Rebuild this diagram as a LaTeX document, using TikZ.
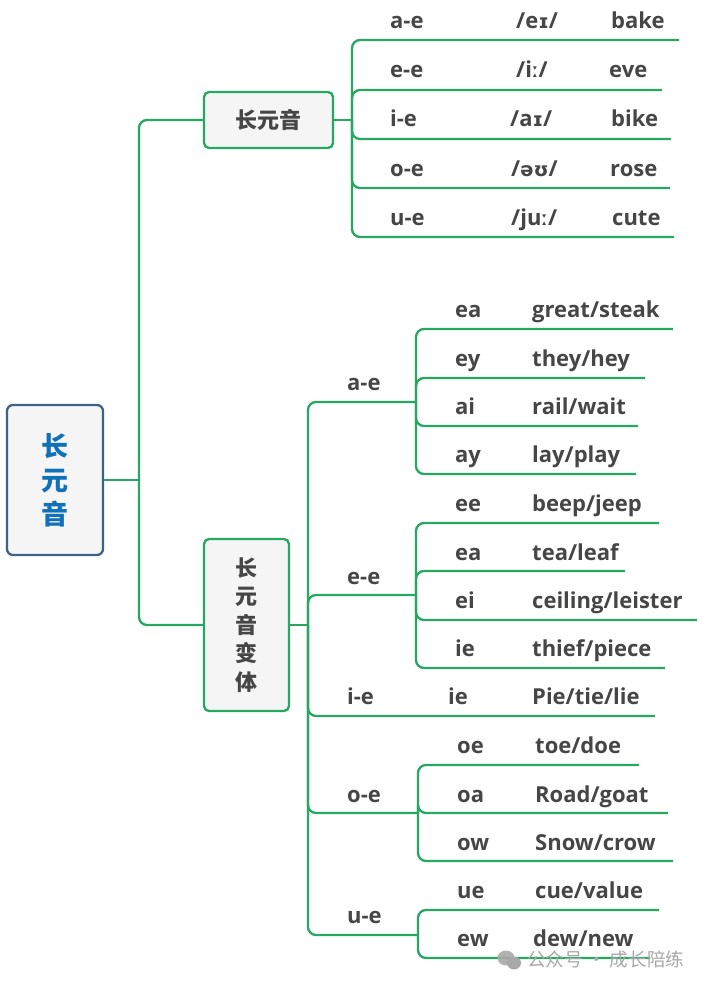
\documentclass[tikz,border=0pt]{standalone}
\usepackage{fontspec}
\setmainfont{Open Sans}
\newfontfamily\cjk{Noto Sans CJK SC}
\newfontfamily\ipafb{DejaVu Sans}
\newcommand{\ipg}[1]{{\fontsize{19.5}{26}\selectfont\ipafb\bfseries #1}}
\definecolor{lnk}{HTML}{27A761}
\definecolor{txt}{HTML}{464646}
\definecolor{rootblue}{HTML}{1070B8}
\definecolor{rootedge}{HTML}{3C6288}
\definecolor{boxfill}{HTML}{F5F5F5}
\definecolor{wm}{HTML}{A8A8A8}
\tikzset{
  x=1pt,y=-1pt,
  lbl/.style={anchor=base west,inner sep=0pt,yshift=-0.8pt,font=\fontsize{22}{26}\selectfont\bfseries,text=txt},
  lnkline/.style={draw=lnk,line width=2.3pt,rounded corners=8pt},
  boxa/.style={draw=lnk,line width=2.3pt,fill=boxfill,rounded corners=5pt,inner sep=0pt,align=center,text=txt,font=\fontsize{22}{28.5}\selectfont\cjk\bfseries},
  rootbox/.style={draw=rootedge,line width=2.3pt,fill=boxfill,rounded corners=6pt,inner sep=0pt,align=center,text=rootblue,font=\fontsize{27}{34}\selectfont\cjk\bfseries},
}
\begin{document}
\begin{tikzpicture}
\useasboundingbox (0,0) rectangle (706,988);
% nodes
\node[rootbox,minimum width=96pt,minimum height=150pt] (root) at (55,480) {长\\元\\音};
\node[boxa,minimum width=129pt,minimum height=56pt] (long) at (268.5,120) {长元音};
\node[boxa,minimum width=85pt,minimum height=172pt] (var) at (246.5,625) {长\\元\\音\\变\\体};
% coordinates
\coordinate (t0) at (139,480);
\coordinate (t1) at (352,120);
\coordinate (t2) at (308,625);
\coordinate (ta) at (416,402);
\coordinate (te) at (416,595);
\coordinate (to) at (418,813);
\coordinate (tu) at (418,935);
% first-level connectors
\draw[lnkline,rounded corners=0pt] (root.east) -- (t0);
\draw[lnkline] (t0) -- (t0 |- long.west) -- (long.west);
\draw[lnkline] (t0) -- (t0 |- var.west) -- (var.west);
\draw[lnkline,rounded corners=0pt] (long.east) -- (t1);
\draw[lnkline,rounded corners=0pt] (var.east) -- (t2);
% long vowels
\foreach \n/\yy/\xe in {l1/40/679,l2/90/662,l3/139/671,l4/188/670,l5/237/674}{
  \coordinate (\n) at (\xe,\yy);
  \draw[lnkline] (t1) -- (t1 |- \n) -- (\n);
}
\node[lbl] (la) at (390,28) {a-e};
\node[lbl] (lb) at (390,77) {e-e};
\node[lbl] (lc) at (390,126) {i-e};
\node[lbl] (ld) at (390,176) {o-e};
\node[lbl] (le) at (390,225) {u-e};
\node[lbl] (pa) at (516,28) {/e\ipg{ɪ}/};
\node[lbl] (pb) at (516,77) {/i\ipg{ː}/};
\node[lbl] (pc) at (510,126) {/a\ipg{ɪ}/};
\node[lbl] (pd) at (511,176) {/\ipg{əʊ}/};
\node[lbl] (pe) at (511,225) {/ju\ipg{ː}/};
\node[lbl] (wa) at (611,28) {bake};
\node[lbl] (wb) at (609,77) {eve};
\node[lbl] (wc) at (611,126) {bike};
\node[lbl] (wd) at (610,176) {rose};
\node[lbl] (we) at (612,225) {cute};
% variants trunk
\foreach \c in {ta,te,to,tu}{
  \draw[lnkline] (t2) -- (t2 |- \c) -- (\c);
}
\coordinate (ie) at (655,716);
\draw[lnkline] (t2) -- (t2 |- ie) -- (ie);
\foreach \tr/\n/\yy/\xe in {ta/a1/329/673,ta/a2/378/645,ta/a3/426/638,ta/a4/474/636,
  te/e1/523/659,te/e2/571/625,te/e3/620/697,te/e4/668/665,
  to/o1/765/639,to/o2/813/668,to/o3/861/673,
  tu/u1/910/659,tu/u2/958/650}{
  \coordinate (\n) at (\xe,\yy);
  \draw[lnkline] (\tr) -- (\tr |- \n) -- (\n);
}
\node[lbl] (va) at (347,390) {a-e};
\node[lbl] (ve) at (347,584) {e-e};
\node[lbl] (vi) at (347,704) {i-e};
\node[lbl] (vo) at (347,802) {o-e};
\node[lbl] (vu) at (347,923) {u-e};
\foreach \n/\xa/\xb/\yy/\sa/\sb in {
 r1/455/532/317/ea/great\slash steak,
 r2/455/532/366/ey/they\slash hey,
 r3/455/532/414/ai/rail\slash wait,
 r4/455/532/462/ay/lay\slash play,
 r5/455/532/511/ee/beep\slash jeep,
 r6/455/532/560/ea/tea\slash leaf,
 r7/455/532/608/ei/ceiling\slash leister,
 r8/455/532/656/ie/thief\slash piece,
 r9/448/532/704/ie/Pie\slash tie\slash lie,
 r10/457/535/753/oe/toe\slash doe,
 r11/457/535/802/oa/Road\slash goat,
 r12/457/535/850/ow/Snow\slash crow,
 r13/457/535/898/ue/cue\slash value,
 r14/457/533/946/ew/dew\slash new}{
  \node[lbl] (\n a) at (\xa,\yy) {\sa};
  \node[lbl] (\n b) at (\xb,\yy) {\sb};
}
% watermark
\fill[wm,opacity=.9] (506,958) ellipse (8.5pt and 7.5pt);
\fill[wm] (514,963) ellipse (7pt and 6.5pt);
\node[anchor=base west,inner sep=0pt,text=wm,font=\fontsize{18.6}{20}\selectfont\cjk] (wmk) at (527,966) {公众号 · 成长陪练};
\end{tikzpicture}
\end{document}
